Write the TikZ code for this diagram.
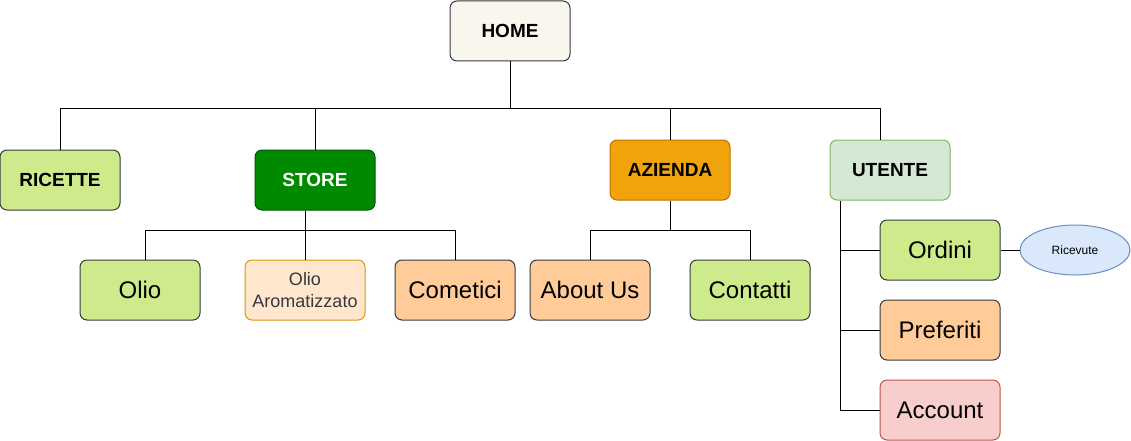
\documentclass[tikz,border=0pt]{standalone}
\usepackage{fontspec}
\setmainfont{Liberation Sans}
\usetikzlibrary{shapes.geometric}

\definecolor{homefill}{HTML}{F9F7ED}
\definecolor{greyline}{HTML}{36393D}
\definecolor{limefill}{HTML}{CDEB8B}
\definecolor{storefill}{HTML}{008A00}
\definecolor{storeline}{HTML}{005700}
\definecolor{aziendafill}{HTML}{F0A30A}
\definecolor{aziendaline}{HTML}{BD7000}
\definecolor{utentefill}{HTML}{D5E8D4}
\definecolor{utenteline}{HTML}{82B366}
\definecolor{peachfill}{HTML}{FFE6CC}
\definecolor{peachline}{HTML}{D79B00}
\definecolor{orangefill}{HTML}{FFCC99}
\definecolor{redfill}{HTML}{F8CECC}
\definecolor{redline}{HTML}{B85450}
\definecolor{bluefill}{HTML}{DAE8FC}
\definecolor{blueline}{HTML}{6C8EBF}

\tikzset{
  page/.style={x=1pt,y=-1pt},
  box/.style={draw=greyline,line width=1pt,rounded corners=7pt,minimum width=120pt,
    minimum height=60pt,inner sep=0pt,align=center},
  mainbox/.style={box,font=\fontsize{19}{22}\selectfont\bfseries},
  leafbox/.style={box,font=\fontsize{24}{28}\selectfont},
  link/.style={line width=1pt,black}
}

\begin{document}
\begin{tikzpicture}[page]
    \useasboundingbox (0,0) rectangle (1131,441);
    \node[mainbox,fill=homefill] (home) at (510,31) {HOME};
    \node[mainbox,fill=limefill] (ricette) at (60,180) {RICETTE};
    \node[mainbox,fill=storefill,draw=storeline,text=white] (store) at (315,180) {STORE};
    \node[mainbox,fill=aziendafill,draw=aziendaline] (azienda) at (670,170) {AZIENDA};
    \node[mainbox,fill=utentefill,draw=utenteline] (utente) at (890,170) {UTENTE};
    \node[leafbox,fill=limefill] (olio) at (140,290) {Olio};
    \node[box,fill=peachfill,draw=peachline,font=\fontsize{18}{21.5}\selectfont,text=greyline] (aroma) at (305,290) {Olio\\Aromatizzato};
    \node[leafbox,fill=orangefill] (cometici) at (455,290) {Cometici};
    \node[leafbox,fill=orangefill] (about) at (590,290) {About Us};
    \node[leafbox,fill=limefill] (contatti) at (750,290) {Contatti};
    \node[leafbox,fill=limefill] (ordini) at (940,250) {Ordini};
    \node[leafbox,fill=orangefill] (preferiti) at (940,330) {Preferiti};
    \node[leafbox,fill=redfill,draw=redline] (account) at (940,410) {Account};
    \node[ellipse,draw=blueline,fill=bluefill,line width=1pt,minimum width=110pt,minimum height=50pt,
      inner sep=0pt,font=\fontsize{12}{14}\selectfont] (ricevute) at (1075,250) {Ricevute};
    \coordinate (hbus) at (510,109);
    \coordinate (sbus) at (305,230);
    \coordinate (abus) at (670,230);
    \coordinate (utrunk) at (840,410);
    \draw[link] (home) -- (hbus);
    \draw[link] (hbus) -| (ricette.north);
    \draw[link] (hbus) -| (store.north);
    \draw[link] (hbus) -| (azienda.north);
    \draw[link] (hbus) -| ([xshift=-10pt]utente.north);
    \draw[link] ([xshift=-10pt]store.south) -- (aroma.north);
    \draw[link] (sbus) -| ([xshift=5pt]olio.north);
    \draw[link] (sbus) -| (cometici.north);
    \draw[link] (azienda) -- (abus);
    \draw[link] (abus) -| (about.north);
    \draw[link] (abus) -| (contatti.north);
    \draw[link] ([xshift=-50pt]utente.south) -- (utrunk) -- (account.west);
    \draw[link] (ordini.west) -- (ordini.west -| utrunk);
    \draw[link] (preferiti.west) -- (preferiti.west -| utrunk);
    \draw[link] (ordini.east) -- (ricevute);
\end{tikzpicture}
\end{document}
